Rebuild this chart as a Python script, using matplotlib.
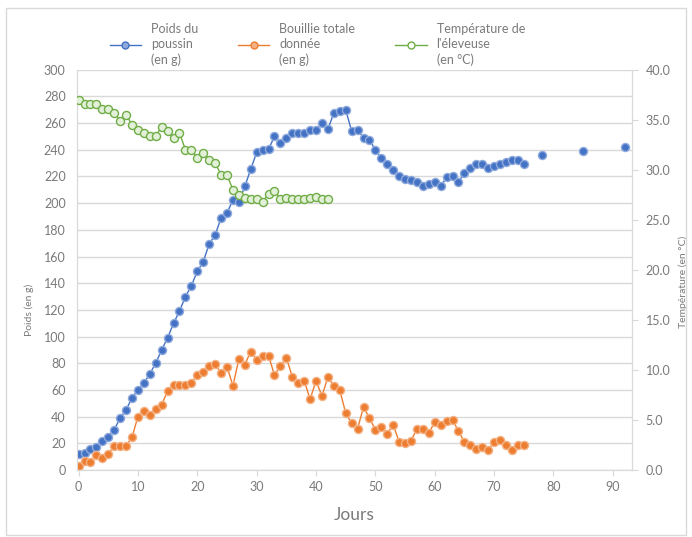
"""
Croissance du poussin : poids, bouillie donnée et température de l'éleveuse.
"""

import matplotlib
matplotlib.use("Agg")
import matplotlib.pyplot as plt
from matplotlib.lines import Line2D
from matplotlib.patches import Rectangle

plt.rcParams["font.family"] = ["Lato", "DejaVu Sans"]

# --- données -----------------------------------------------------------
jours_poids = list(range(0, 76))
poids = [
    12, 13, 15.5, 17, 22, 25, 30, 39, 45, 54,
    60, 65, 72, 80, 90, 99, 110, 119, 130, 138,
    149, 156, 169.5, 176, 189, 192.5, 202.5, 201, 212.5, 225.5,
    238, 240, 240.5, 250, 245, 249, 252.5, 252.5, 252.5, 255,
    255, 260, 255.5, 267.5, 269, 270, 254, 255, 249, 247.5,
    240, 234, 229.5, 225, 220.5, 218, 217.5, 215.5, 212.5, 214,
    215.5, 212.5, 219.5, 220, 216, 222.5, 226, 229.5, 229, 226,
    228, 229.5, 231, 232, 232, 229.5,
]
# pesées espacées en fin de suivi (points isolés)
jours_poids_tardifs = [78, 85, 92]
poids_tardifs = [236, 239, 242]

jours_bouillie = list(range(0, 76))
bouillie = [
    3, 7, 6, 11, 8.75, 12, 18, 18, 18, 24.5,
    40, 44.5, 41, 46, 49, 59, 64, 64, 64, 65.5,
    71, 73.75, 78, 79.5, 72.5, 77.5, 63, 83, 79, 88.75,
    82.5, 85.75, 85.75, 71, 78, 84, 70, 65, 67, 53,
    66.75, 55.5, 69.5, 63, 60, 42.5, 35, 31, 47, 39,
    30, 32, 27, 34, 21, 20.5, 22, 30.5, 31, 27.5,
    36, 34, 37, 37.5, 29, 21, 18.75, 16, 17.5, 15,
    21, 22.5, 18.75, 15, 18.75, 18.75,
]

jours_temp = list(range(0, 43))
temperature = [
    37.0, 36.6, 36.6, 36.6, 36.1, 36.1, 35.7, 34.9, 35.5, 34.5,
    34.0, 33.7, 33.4, 33.4, 34.3, 33.9, 33.2, 33.7, 32.0, 32.0,
    31.2, 31.7, 31.0, 30.7, 29.5, 29.5, 28.0, 27.5, 27.2, 27.1,
    27.1, 26.8, 27.6, 27.9, 27.1, 27.2, 27.1, 27.1, 27.1, 27.2,
    27.3, 27.1, 27.1,
]

ticks_x = list(range(0, 100, 10))
ticks_poids = list(range(0, 320, 20))
ticks_temp = [0, 5, 10, 15, 20, 25, 30, 35, 40]

BLEU = "#4472C4"
ORANGE = "#ED7D31"
VERT = "#70AD47"
GRIS_TEXTE = "#7a7a7a"
GRIS_TRAIT = "#d9d9d9"

fig = plt.figure(figsize=(6.92, 5.37), dpi=100)
ax = fig.add_axes([0.111, 0.125, 0.802, 0.745])
ax2 = ax.twinx()

style = dict(lw=1.0, marker="o", markersize=5.8, markeredgewidth=1.0)
ax.plot(jours_poids, poids, color=BLEU, markerfacecolor=BLEU,
        markeredgecolor="#8faadc", zorder=3, **style)
ax.plot(jours_poids_tardifs, poids_tardifs, ls="none", marker="o",
        markersize=5.8, markeredgewidth=1.0, markerfacecolor=BLEU,
        markeredgecolor="#8faadc", zorder=3)
ax.plot(jours_bouillie, bouillie, color=ORANGE, markerfacecolor=ORANGE,
        markeredgecolor="#f4b183", zorder=3, **style)
ax2.plot(jours_temp, temperature, color=VERT, markerfacecolor="#e2f0d9",
         markeredgecolor=VERT, zorder=3, **style)

ax.set_xlim(-0.3, 93.2)
ax.set_ylim(0, 300)
ax2.set_ylim(0, 40)
ax.set_xticks(ticks_x)
ax.set_yticks(ticks_poids)
ax2.set_yticks(ticks_temp)
ax2.set_yticklabels([f"{v:.1f}" for v in ticks_temp])

ax.yaxis.grid(True, color=GRIS_TRAIT, lw=1.0)
ax.set_axisbelow(True)
for a in (ax, ax2):
    for s in a.spines.values():
        s.set_color(GRIS_TRAIT)
ax.spines["top"].set_visible(False)
ax2.spines["top"].set_visible(False)

ax.tick_params(axis="x", colors=GRIS_TRAIT, labelcolor=GRIS_TEXTE,
               labelsize=9, length=4, pad=4)
ax.tick_params(axis="y", length=0, labelcolor=GRIS_TEXTE, labelsize=9, pad=8)
ax2.tick_params(axis="y", colors=GRIS_TRAIT, labelcolor=GRIS_TEXTE,
                labelsize=9, length=4, pad=6)

ax.set_xlabel("Jours", fontsize=12.5, color=GRIS_TEXTE, labelpad=10)
ax.set_ylabel("Poids (en g)", fontsize=7.5, color=GRIS_TEXTE)
ax.yaxis.set_label_coords(-0.078, 0.40)
ax2.set_ylabel("Température (en °C)", fontsize=7.5, color=GRIS_TEXTE,
               rotation=90)
ax2.yaxis.set_label_coords(1.084, 0.47)

# légende en haut
poignees = [
    Line2D([], [], color=BLEU, marker="o", markersize=5,
           markerfacecolor="#8faadc", markeredgecolor=BLEU, lw=1.0),
    Line2D([], [], color=ORANGE, marker="o", markersize=5,
           markerfacecolor="#f4b183", markeredgecolor=ORANGE, lw=1.0),
    Line2D([], [], color=VERT, marker="o", markersize=5,
           markerfacecolor="white", markeredgecolor=VERT, lw=1.0),
]
etiquettes = [
    "Poids du\npoussin\n(en g)",
    "Bouillie totale\ndonnée\n(en g)",
    "Température de\nl'éleveuse\n(en °C)",
]
leg = fig.legend(poignees, etiquettes, ncol=3, loc="upper left",
                 bbox_to_anchor=(0.142, 0.978), frameon=False,
                 fontsize=9, handlelength=2.5, handletextpad=0.8,
                 columnspacing=3.2)
for t in leg.get_texts():
    t.set_color(GRIS_TEXTE)
    t.set_linespacing(1.3)

# cadre du graphique
fig.patches.append(Rectangle((0.008, 0.004), 0.984, 0.981,
                             transform=fig.transFigure, fill=False,
                             edgecolor=GRIS_TRAIT, lw=1.0))

fig.savefig("out.png", dpi=100)
